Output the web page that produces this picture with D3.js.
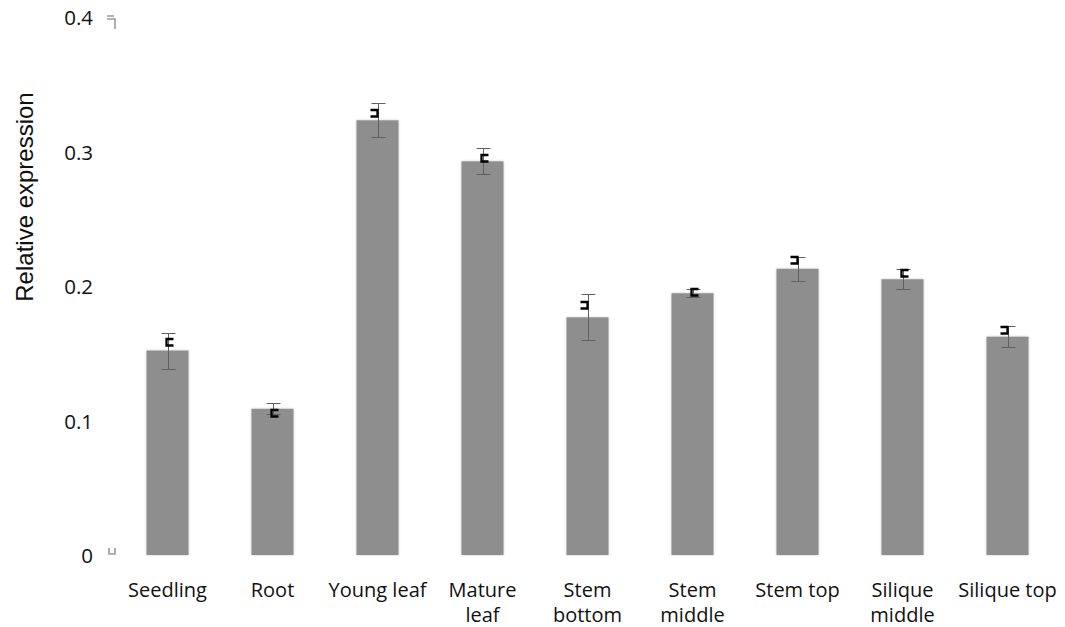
<!DOCTYPE html>
<html>
<head>
<meta charset="utf-8">
<script src="https://cdn.jsdelivr.net/npm/d3@7/dist/d3.min.js"></script>
<style>
  html, body { margin: 0; padding: 0; background: #fff; }
  svg { display: block; font-family: 'Open Sans', sans-serif; }
</style>
</head>
<body>
<svg id="chart" width="1065" height="627"></svg>
<script>
(function() {
  'use strict';

  var categories = [
    ['Seedling'], ['Root'], ['Young leaf'], ['Mature', 'leaf'], ['Stem', 'bottom'],
    ['Stem', 'middle'], ['Stem top'], ['Silique', 'middle'], ['Silique top']
  ];
  var values = [0.152, 0.1087, 0.3232, 0.2927, 0.1767, 0.1946, 0.2128, 0.205, 0.1623];
  var errors = [0.0134, 0.0041, 0.0126, 0.0097, 0.0171, 0.003, 0.009, 0.0074, 0.0079];

  // the small bracket glyphs above each bar (top edge, in data units)
  var letterValues = [0.1613, 0.1086, 0.3316, 0.2981, 0.1891, 0.1983, 0.2223, 0.2126, 0.1703];
  var letterFlipped = [false, false, true, false, true, false, true, false, true];

  var yTicks = [0, 0.1, 0.2, 0.3, 0.4];
  var yTitle = 'Relative expression';

  var svg = d3.select('#chart');
  var keys = categories.map(function(d) { return d.join(' '); });

  var x = d3.scaleBand()
    .domain(keys)
    .range([115, 1060])
    .paddingInner(0.6)
    .paddingOuter(0.3);

  var y = d3.scaleLinear()
    .domain([0, 0.4])
    .range([555, 17]);

  var defs = svg.append('defs');
  defs.append('filter')
    .attr('id', 'shadow')
    .attr('x', '-20%').attr('y', '-5%')
    .attr('width', '140%').attr('height', '110%')
    .append('feDropShadow')
    .attr('dx', 0).attr('dy', 0)
    .attr('stdDeviation', 1.2)
    .attr('flood-color', '#000')
    .attr('flood-opacity', 0.25);

  // y tick labels, no axis line
  svg.append('g').attr('class', 'y-ticks')
    .selectAll('text')
    .data(yTicks)
    .enter().append('text')
    .attr('x', 93)
    .attr('y', function(d) { return y(d) + 8; })
    .attr('text-anchor', 'end')
    .attr('font-size', '20.5px')
    .attr('fill', '#111')
    .text(function(d) { return d === 0 ? '0' : d3.format('.1f')(d); });

  // stray grey marks next to the axis ends
  var top = y(0.4), base = y(0);
  svg.append('path')
    .attr('d', 'M107,' + (top - 1) + 'H114M107,' + (top + 2) + 'H115V' + (top + 12))
    .attr('fill', 'none').attr('stroke', '#9a9a9a').attr('stroke-width', 1.6);
  svg.append('path')
    .attr('d', 'M109,' + (base - 7) + 'V' + (base - 1) + 'H115V' + (base - 7))
    .attr('fill', 'none').attr('stroke', '#9a9a9a').attr('stroke-width', 1.6);

  var rows = keys.map(function(k, i) {
    return { key: k, value: values[i], err: errors[i], letter: letterValues[i], flip: letterFlipped[i] };
  });

  svg.append('g').attr('class', 'bars')
    .selectAll('rect')
    .data(rows)
    .enter().append('rect')
    .attr('x', function(d) { return x(d.key); })
    .attr('y', function(d) { return y(d.value); })
    .attr('width', x.bandwidth())
    .attr('height', function(d) { return y(0) - y(d.value); })
    .attr('fill', '#8e8e8e')
    .attr('filter', 'url(#shadow)');

  var capHalf = 7;
  svg.append('g').attr('class', 'errors')
    .attr('stroke', '#606060').attr('stroke-width', 1).attr('fill', 'none')
    .selectAll('path')
    .data(rows)
    .enter().append('path')
    .attr('d', function(d) {
      var cx = Math.round(x(d.key) + x.bandwidth() / 2) + 0.5;
      var hi = Math.round(y(d.value + d.err)) + 0.5;
      var lo = Math.round(y(d.value - d.err)) + 0.5;
      return 'M' + (cx - capHalf) + ',' + hi + 'H' + (cx + capHalf) +
        'M' + cx + ',' + hi + 'V' + lo +
        'M' + (cx - capHalf) + ',' + lo + 'H' + (cx + capHalf);
    });

  // bracket glyphs
  svg.append('g').attr('class', 'letters')
    .attr('stroke', '#000').attr('stroke-width', 2.3).attr('fill', 'none')
    .selectAll('path')
    .data(rows)
    .enter().append('path')
    .attr('d', function(d) {
      var cx = x(d.key) + x.bandwidth() / 2;
      var t = Math.round(y(d.letter)) + 1;
      var b = t + 6.5;
      if (d.flip) {
        return 'M' + (cx - 7) + ',' + t + 'H' + cx + 'V' + b + 'H' + (cx - 7);
      }
      return 'M' + (cx + 6) + ',' + t + 'H' + (cx - 1) + 'V' + b + 'H' + (cx + 6);
    });

  // category labels, one or two lines
  var labels = svg.append('g').attr('class', 'x-labels')
    .selectAll('text')
    .data(categories)
    .enter().append('text')
    .attr('text-anchor', 'middle')
    .attr('font-size', '20px')
    .attr('fill', '#111')
    .attr('transform', function(d, i) {
      return 'translate(' + (x(keys[i]) + x.bandwidth() / 2) + ',597)';
    });

  labels.selectAll('tspan')
    .data(function(d) { return d; })
    .enter().append('tspan')
    .attr('x', 0)
    .attr('y', function(d, i) { return i * 25; })
    .text(function(d) { return d; });

  svg.append('text')
    .attr('transform', 'translate(33,197) rotate(-90)')
    .attr('text-anchor', 'middle')
    .attr('font-family', "'Liberation Sans', Arial, sans-serif")
    .attr('font-size', '24px')
    .attr('fill', '#111')
    .text(yTitle);
}).call(this);
</script>
</body>
</html>
